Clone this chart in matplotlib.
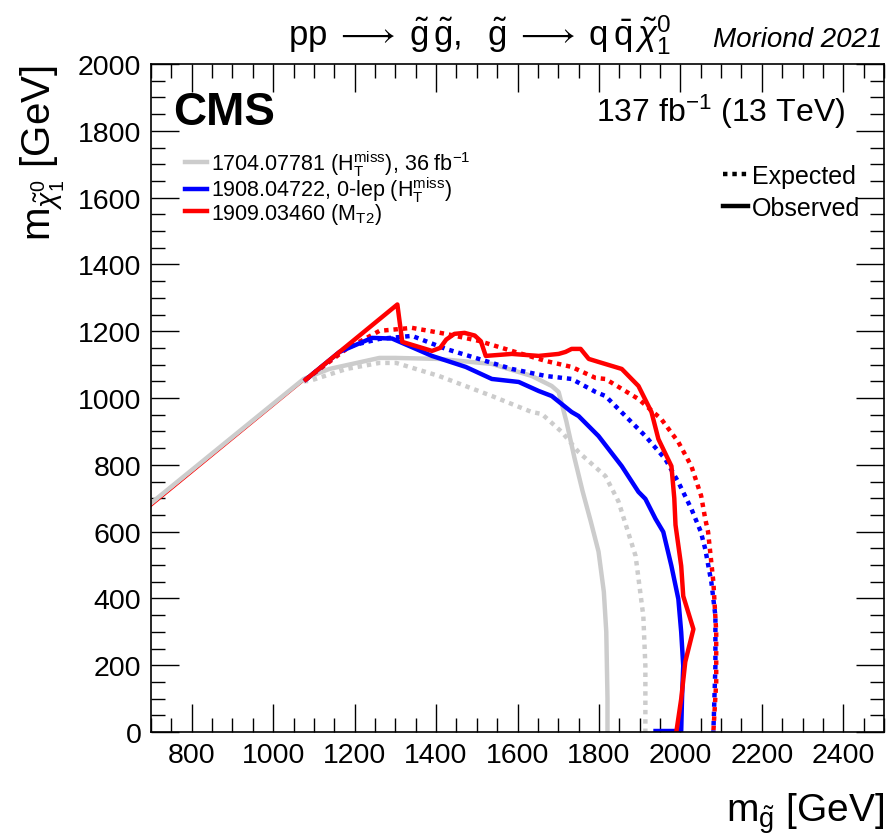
import matplotlib
matplotlib.use("Agg")
import matplotlib.pyplot as plt
from matplotlib.lines import Line2D
from matplotlib.ticker import MultipleLocator

plt.rcParams['font.family'] = ['Liberation Sans', 'DejaVu Sans']
plt.rcParams['mathtext.fontset'] = 'custom'
plt.rcParams['mathtext.rm'] = 'Liberation Sans'
plt.rcParams['mathtext.it'] = 'Liberation Sans:italic'
plt.rcParams['mathtext.bf'] = 'Liberation Sans:bold'
plt.rcParams['mathtext.fallback'] = 'stixsans'

# ---------------- data ----------------
diag_x = [700, 1100]
diag_y = [675, 1075]

gray_obs_x = [700, 1075, 1138, 1261, 1300, 1407, 1537, 1635, 1684, 1701, 1720, 1740, 1760, 1780, 1799, 1812, 1818, 1821, 1821]
gray_obs_y = [685, 1057, 1087, 1120, 1120, 1117, 1102, 1066, 1036, 1018, 930, 820, 720, 630, 540, 420, 300, 100, 0]

gray_exp_x = [1075, 1089, 1180, 1261, 1302, 1407, 1537, 1635, 1660, 1709, 1750, 1816, 1848, 1890, 1909, 1914, 1914]
gray_exp_y = [1050, 1051, 1087, 1105, 1105, 1066, 1006, 958, 952, 898, 838, 766, 690, 527, 347, 198, 0]

blue_obs_x = [1080, 1163, 1243, 1292, 1390, 1473, 1537, 1603, 1652, 1684, 1733, 1750, 1799, 1856, 1897, 1914, 1939, 1958, 1978, 1995, 2002, 2007, 2004, 2002, 1939]
blue_obs_y = [1055, 1138, 1180, 1178, 1126, 1093, 1057, 1048, 1021, 1006, 958, 946, 886, 796, 719, 698, 638, 599, 497, 398, 299, 198, 100, 3, 3]

blue_exp_x = [1080, 1180, 1261, 1341, 1424, 1505, 1586, 1669, 1733, 1792, 1816, 1865, 1914, 1963, 1995, 2027, 2050, 2061, 2076, 2086, 2086, 2081]
blue_exp_y = [1055, 1153, 1177, 1186, 1147, 1117, 1087, 1066, 1057, 1018, 1006, 946, 886, 817, 748, 668, 600, 548, 449, 347, 198, 0]

red_obs_x = [1080, 1212, 1305, 1317, 1390, 1410, 1425, 1445, 1470, 1495, 1510, 1522, 1586, 1652, 1701, 1718, 1733, 1755, 1775, 1799, 1856, 1897, 1929, 1946, 1978, 1985, 1988, 2002, 2007, 2032, 2012, 2002, 1990]
red_obs_y = [1055, 1187, 1280, 1168, 1141, 1150, 1175, 1192, 1195, 1187, 1170, 1126, 1132, 1126, 1132, 1138, 1147, 1147, 1117, 1108, 1087, 1036, 958, 877, 796, 700, 620, 497, 407, 308, 210, 99, 0]

red_exp_x = [1080, 1180, 1261, 1341, 1424, 1505, 1586, 1669, 1733, 1792, 1816, 1897, 1953, 1995, 2027, 2051, 2061, 2068, 2081, 2088, 2088, 2081]
red_exp_y = [1055, 1147, 1201, 1210, 1192, 1171, 1141, 1111, 1093, 1060, 1057, 997, 937, 868, 796, 707, 638, 599, 449, 299, 150, 0]

legend_labels = [r'1704.07781 ($\mathrm{H_T^{miss}}$), 36 fb$^{-1}$',
                 r'1908.04722, 0-lep ($\mathrm{H_T^{miss}}$)',
                 r'1909.03460 ($\mathrm{M_{T2}}$)']

# ---------------- figure ----------------
fig = plt.figure(figsize=(8.89, 8.37), dpi=100)
ax = fig.add_axes([151/889, 1-733/837, 733/889, 668/837])

GRAY = '#cccccc'
BLUE = '#0000ff'
RED = '#ff0000'
LW = 3.2
DOT = (0, (1, 1.1))

ax.plot(diag_x, diag_y, color=RED, lw=0.8)
ax.plot(gray_exp_x, gray_exp_y, color=GRAY, lw=LW, ls=DOT)
ax.plot(gray_obs_x, gray_obs_y, color=GRAY, lw=LW)
ax.plot(blue_exp_x, blue_exp_y, color=BLUE, lw=LW, ls=DOT)
ax.plot(red_exp_x, red_exp_y, color=RED, lw=LW, ls=DOT)
ax.plot(blue_obs_x, blue_obs_y, color=BLUE, lw=LW)
ax.plot(red_obs_x, red_obs_y, color=RED, lw=LW)

ax.set_xlim(700, 2500)
ax.set_ylim(0, 2000)
ax.xaxis.set_major_locator(MultipleLocator(200))
ax.xaxis.set_minor_locator(MultipleLocator(50))
ax.yaxis.set_major_locator(MultipleLocator(200))
ax.yaxis.set_minor_locator(MultipleLocator(50))
ax.tick_params(which='both', direction='in', top=True, right=True, labelsize=20.5, width=1)
ax.tick_params(which='major', length=20, pad=7)
ax.tick_params(which='minor', length=10)
for s in ax.spines.values():
    s.set_linewidth(1.2)

ax.set_xlabel(r'$\mathrm{m}_{\tilde{\mathrm{g}}}$ [GeV]', fontsize=28, loc='right', labelpad=16)
ax.set_ylabel(r'$\mathrm{m}_{\tilde{\chi}^{0}_{1}}$ [GeV]', fontsize=29, loc='top', labelpad=8)

fig.text(480/889, 1-35/837,
         r'$\mathrm{pp} \;\longrightarrow\; \tilde{\mathrm{g}}\,\tilde{\mathrm{g}},\ \ \tilde{\mathrm{g}} \;\longrightarrow\; \mathrm{q}\,\bar{\mathrm{q}}\,\tilde{\chi}^{0}_{1}$',
         fontsize=25, ha='center', va='center')
fig.text(882/889, 1-40/837, 'Moriond 2021', fontsize=20, style='italic', ha='right', va='center')

ax.text(0.03, 0.928, 'CMS', transform=ax.transAxes, fontsize=33, fontweight='bold', ha='left', va='center')
ax.text(0.947, 0.93, r'137 fb$^{-1}$ (13 TeV)', transform=ax.transAxes, fontsize=23, ha='right', va='center')

h1 = [Line2D([], [], color=c, lw=LW) for c in (GRAY, BLUE, RED)]
leg1 = ax.legend(h1, legend_labels, loc='upper left', bbox_to_anchor=(0.035, 0.887), frameon=False,
                 fontsize=15.5, handlelength=1.0, handletextpad=0.2, labelspacing=-0.15, borderaxespad=0)
ax.add_artist(leg1)
h2 = [Line2D([], [], color='black', lw=LW, ls=DOT), Line2D([], [], color='black', lw=LW)]
ax.legend(h2, ['Expected', 'Observed'], loc='upper left', bbox_to_anchor=(0.767, 0.865), frameon=False,
          fontsize=18, handlelength=1.0, handletextpad=0.15, labelspacing=0.3, borderaxespad=0)

fig.savefig('out.png', dpi=100)
